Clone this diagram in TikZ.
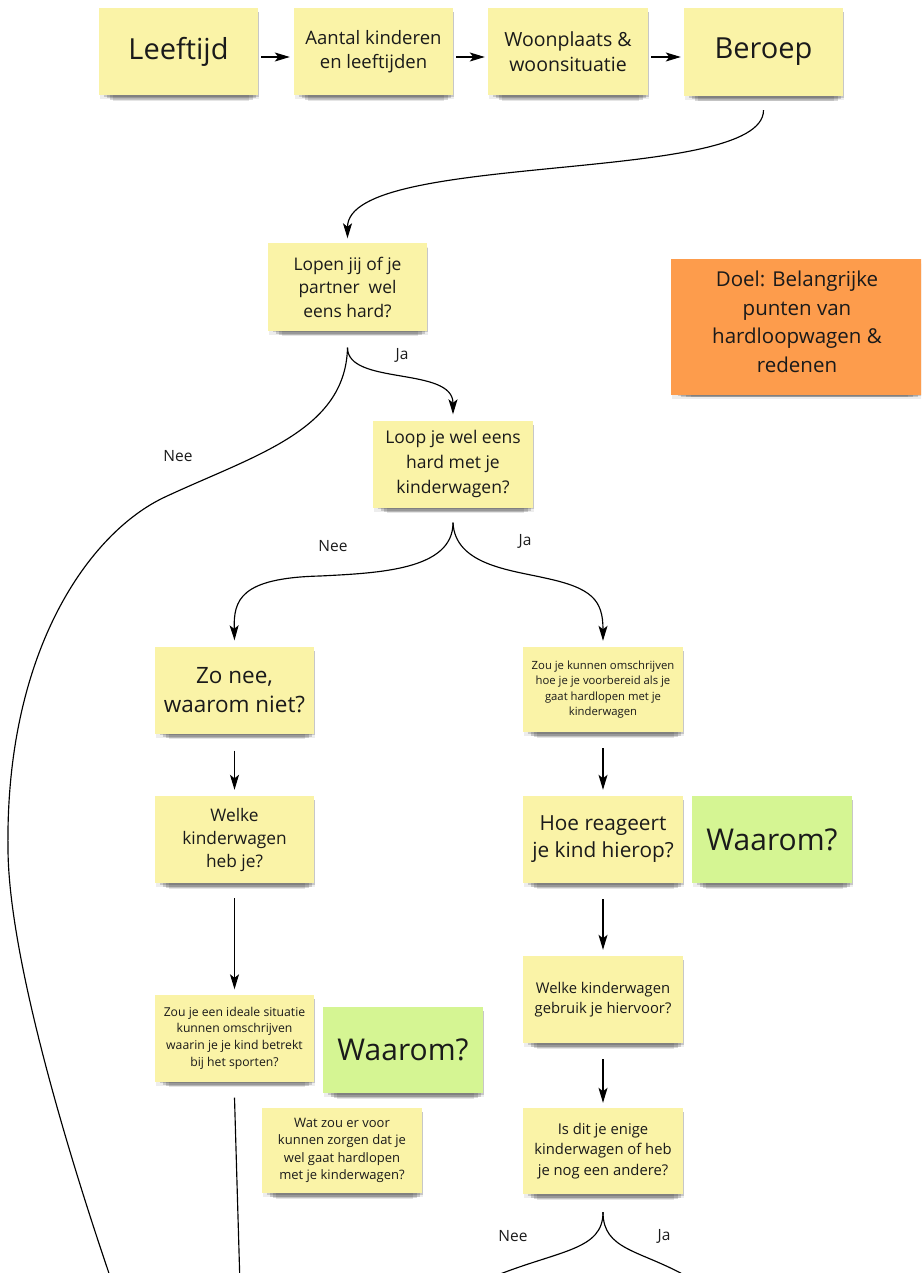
\documentclass[tikz,border=0pt]{standalone}
\usepackage{fontspec}
\setmainfont{Open Sans}
\usetikzlibrary{arrows.meta,shadows,calc}
\definecolor{notey}{HTML}{FAF3A7}
\definecolor{noteg}{HTML}{D5F593}
\definecolor{noteo}{HTML}{FD9C4C}
\definecolor{ink}{HTML}{1A1A1A}
\begin{document}
\begin{tikzpicture}[x=1pt,y=-1pt,
  sh/.style={
    general shadow={fill=black, opacity=0.07, shadow xshift=1pt, shadow yshift=-4pt, shadow scale=1.0},
    general shadow={fill=black, opacity=0.16, shadow xshift=3pt, shadow yshift=-3pt, shadow scale=0.97},
    general shadow={fill=black, opacity=0.16, shadow xshift=3pt, shadow yshift=-6.5pt, shadow scale=0.94},
    general shadow={fill=black, opacity=0.15, shadow xshift=3pt, shadow yshift=-10pt, shadow scale=0.90},
    general shadow={fill=black, opacity=0.10, shadow xshift=3pt, shadow yshift=-13.5pt, shadow scale=0.86}},
  note/.style={sh, fill=notey, inner sep=2pt, align=center, text=ink, minimum width=159pt, minimum height=87pt},
  gnote/.style={note, fill=noteg},
  onote/.style={note, fill=noteo},
  fs/.style 2 args={font=\fontsize{#1}{#2}\selectfont},
  conn/.style={line width=1.15pt, draw=black, -{Stealth[length=15pt,width=9pt,inset=3.5pt]}},
  plain/.style={line width=1.15pt, draw=black},
  lbl/.style={text=ink, font=\fontsize{15.5}{18}\selectfont, inner sep=0pt}
]
\useasboundingbox (0,0) rectangle (921,1273);
\clip (0,0) rectangle (921,1273);

% top row
\node[note, fs={29}{35}] (leef) at (178.5,51.5) {Leeftijd};
\node[note, fs={18.5}{24}] (aant) at (373.5,51.5) {Aantal kinderen\\en leeftijden};
\node[note, minimum width=160pt, fs={19.5}{25}] (woon) at (568,51.5) {Woonplaats \&\\woonsituatie};
\node[note, minimum height=88pt, fs={29}{35}] (ber) at (763.5,52) {Beroep};

\node[note, fs={17.4}{23.5}] (lopen) at (347.5,287) {Lopen jij of je\\partner\ \ wel\\eens hard?};
\node[onote, minimum width=252pt, minimum height=136pt] (doel) at (797,327) {};
\node[text=ink, align=center, fs={20.5}{28.5}] (doeltxt) at ($(doel.center)+(0,-5)$) {Doel: Belangrijke\\punten van\\hardloopwagen \&\\redenen};
\node[note, minimum width=160pt, fs={17.5}{25}] (loop) at (453,464) {Loop je wel eens\\hard met je\\kinderwagen?};

% left column
\node[note, fs={22.5}{29.5}] (zonee) at (234.5,690) {Zo nee,\\waarom niet?};
\node[note, fs={17.3}{23}] (welke1) at (234.5,839.5) {Welke\\kinderwagen\\heb je?};
\node[note, fs={12.2}{16.7}] (ideal) at (234.5,1038) {Zou je een ideale situatie\\kunnen omschrijven\\waarin je je kind betrekt\\bij het sporten?};
\node[gnote, minimum width=160pt, minimum height=86pt, fs={30}{36}] (waar1) at (403,1050) {Waarom?};
\node[note, minimum width=160pt, minimum height=85pt, fs={13}{17.5}] (wat) at (342,1150.5) {Wat zou er voor\\kunnen zorgen dat je\\wel gaat hardlopen\\met je kinderwagen?};

% right column
\node[note, minimum width=160pt, minimum height=85pt, fs={11.3}{15.5}] (omschr) at (603,689.5) {Zou je kunnen omschrijven\\hoe je je voorbereid als je\\gaat hardlopen met je\\kinderwagen};
\node[note, minimum width=160pt, fs={20.8}{27}] (hoe) at (603,839.5) {Hoe reageert\\je kind hierop?};
\node[gnote, minimum width=160pt, fs={30}{36}] (waar2) at (772,839.5) {Waarom?};
\node[note, minimum width=160pt, fs={14.8}{20}] (welke2) at (603,999.5) {Welke kinderwagen\\gebruik je hiervoor?};
\node[note, minimum width=160pt, minimum height=86pt, fs={14.8}{20.7}] (isdit) at (603,1151) {Is dit je enige\\kinderwagen of heb\\je nog een andere?};

% free ends
\coordinate (neeend) at (113,1285);
\coordinate (idealend) at (240,1285);
\coordinate (forkL) at (495,1276);
\coordinate (forkR) at (686,1276);

% connectors top row
\draw[conn] ($(leef.east)+(3,5.5)$) -- ($(aant.west)+(-4,5.5)$);
\draw[conn] ($(aant.east)+(3,5.5)$) -- ($(woon.west)+(-3,5.5)$);
\draw[conn] ($(woon.east)+(3,5.5)$) -- ($(ber.west)+(-3,5)$);

\draw[conn] ($(ber.south)+(0,14)$) .. controls +(0,75) and +(0,-88) .. ($(lopen.north)+(0,-5)$);

% lopen fork
\draw[conn] ($(lopen.south)+(0,17)$) .. controls +(0,38) and +(0,-48) .. ($(loop.north)+(0,-6)$);
\draw[plain] ($(lopen.south)+(0,17)$) .. controls +(-2,83) and (255,455) .. (165,497)
   .. controls (90,532) and (5,650) .. (8,850)
   .. controls (9,960) and (70,1160) .. (neeend);

% loop fork
\draw[conn] ($(loop.south)+(0,15)$) .. controls +(0,47) and (380,573) .. (320,576)
   .. controls (240,578) and (233.5,600) .. ($(zonee.north)+(0,-6)$);
\draw[conn] ($(loop.south)+(0,15)$) .. controls +(2,42) and (510,570) .. (545,578)
   .. controls (592,588) and (603,600) .. ($(omschr.north)+(0,-6)$);

% verticals
\draw[conn, shorten <=17pt, shorten >=6pt] (zonee) -- (welke1);
\draw[conn, shorten <=15pt, shorten >=5pt] (welke1) -- (ideal);
\draw[plain] ($(ideal.south)+(0,16)$) -- (idealend);
\draw[conn, shorten <=16pt, shorten >=6pt] (omschr) -- (hoe);
\draw[conn, shorten <=16pt, shorten >=6pt] (hoe) -- (welke2);
\draw[conn, shorten <=16pt, shorten >=5pt] (welke2) -- (isdit);

% isdit fork
\draw[plain] ($(isdit.south)+(0,18)$) .. controls +(0,38) and (560,1250) .. (forkL);
\draw[plain] ($(isdit.south)+(0,18)$) .. controls +(0,38) and (640,1250) .. (forkR);

% labels
\node[lbl] (ja1) at (402,355) {Ja};
\node[lbl] (nee1) at (178,456) {Nee};
\node[lbl] (nee2) at (333,546) {Nee};
\node[lbl] (ja2) at (525,541) {Ja};
\node[lbl] (nee3) at (513,1236) {Nee};
\node[lbl] (ja3) at (664,1236) {Ja};
\end{tikzpicture}
\end{document}
